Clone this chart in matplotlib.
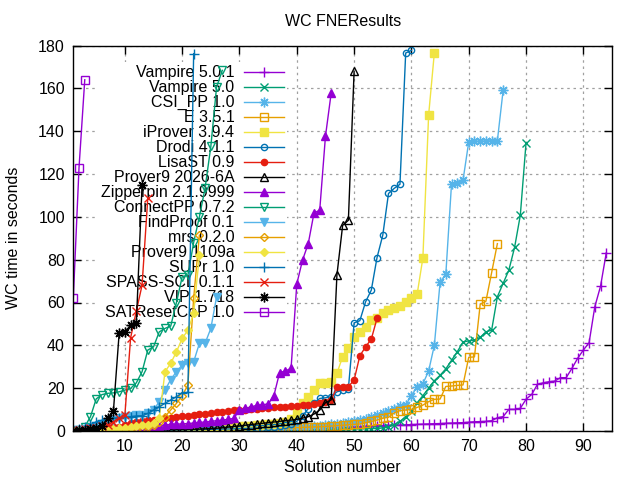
import matplotlib
matplotlib.use('Agg')
import matplotlib.pyplot as plt
from matplotlib.transforms import IdentityTransform

plt.rcParams['font.family'] = ['Liberation Sans', 'DejaVu Sans']

title = "WC FNEResults"
xlabel = "Solution number"
ylabel = "WC time in seconds"

labels = ["Vampire 5.0.1", "Vampire 5.0", "CSI_PP 1.0", "E 3.5.1", "iProver 3.9.4",
          "Drodi 4.1.1", "LisaST 0.9", "Prover9 2026-6A", "Zipperpin 2.1.9999",
          "ConnectPP 0.7.2", "FindProof 0.1", "mrs 0.2.0", "Prover9 1109a",
          "SUPr 1.0", "SPASS-SCL 0.1.1", "VIP 1.718", "SATResetCoP 1.0"]

vampire_501 = [0.05, 0.08, 0.1, 0.12, 0.15, 0.17, 0.2, 0.22, 0.25, 0.27,
               0.3, 0.32, 0.35, 0.37, 0.4, 0.42, 0.45, 0.47, 0.5, 0.52,
               0.55, 0.58, 0.6, 0.63, 0.66, 0.7, 0.73, 0.76, 0.8, 0.84,
               0.88, 0.92, 0.96, 1.0, 1.05, 1.1, 1.15, 1.2, 1.25, 1.3,
               1.35, 1.4, 1.45, 1.5, 1.55, 1.6, 1.7, 1.8, 1.9, 2.0,
               2.1, 2.2, 2.3, 2.4, 2.5, 2.6, 2.7, 2.8, 2.9, 3.0,
               3.1, 3.2, 3.3, 3.4, 3.5, 3.6, 3.7, 3.8, 3.9, 4.1,
               4.3, 4.4, 4.5, 4.8, 6.2, 6.7, 10.1, 10.1, 10.6, 14.8,
               17.1, 21.8, 22.5, 23.0, 23.3, 24.9, 24.9, 29.2, 33.9, 37.8,
               41.2, 58.0, 67.6, 83.2]
vampire_50 = [0.03, 0.05, 0.06, 0.08, 0.1, 0.11, 0.12, 0.14, 0.15, 0.16,
              0.18, 0.19, 0.2, 0.22, 0.23, 0.25, 0.26, 0.28, 0.3, 0.32,
              0.34, 0.36, 0.38, 0.4, 0.42, 0.44, 0.46, 0.48, 0.5, 0.52,
              0.54, 0.56, 0.58, 0.6, 0.62, 0.64, 0.66, 0.68, 0.7, 0.72,
              0.74, 0.76, 0.78, 0.8, 0.82, 0.84, 0.86, 0.88, 0.9, 0.92,
              0.95, 1.0, 1.1, 1.2, 1.4, 1.8, 3.0, 4.5, 6.5, 9.5,
              13.2, 16.5, 20.0, 23.5, 26.0, 29.0, 33.0, 37.0, 41.5, 42.1,
              42.4, 43.7, 46.3, 47.1, 62.7, 68.9, 75.1, 85.7, 100.7, 134.5]
csi_pp = [0.05, 0.07, 0.09, 0.1, 0.12, 0.14, 0.16, 0.18, 0.2, 0.22,
          0.25, 0.28, 0.3, 0.33, 0.36, 0.4, 0.43, 0.46, 0.5, 0.55,
          0.6, 0.65, 0.7, 0.75, 0.8, 0.85, 0.9, 0.95, 1.0, 1.05,
          1.1, 1.15, 1.2, 1.3, 1.4, 1.5, 1.6, 1.7, 1.8, 1.9,
          2.0, 2.1, 2.3, 2.5, 2.8, 3.1, 3.5, 3.9, 4.3, 4.8,
          5.3, 5.8, 6.5, 7.5, 8.5, 9.5, 10.1, 11.7, 12.1, 16.5,
          20.7, 22.0, 28.0, 40.0, 69.4, 73.1, 115.5, 116.0, 117.0, 135.0,
          135.2, 135.3, 135.4, 135.5, 135.6, 159.0]
e_351 = [0.03, 0.05, 0.07, 0.09, 0.1, 0.12, 0.14, 0.16, 0.18, 0.2,
         0.22, 0.24, 0.26, 0.28, 0.3, 0.33, 0.36, 0.39, 0.42, 0.45,
         0.48, 0.5, 0.55, 0.6, 0.65, 0.7, 0.75, 0.8, 0.85, 0.9,
         0.95, 1.0, 1.05, 1.1, 1.15, 1.2, 1.3, 1.4, 1.5, 1.6,
         1.7, 1.8, 1.9, 2.0, 2.1, 2.3, 2.5, 2.7, 2.9, 3.1,
         3.3, 3.9, 4.5, 5.1, 6.0, 6.4, 8.5, 9.5, 9.8, 10.1,
         11.0, 12.1, 13.7, 14.8, 14.9, 20.8, 21.0, 21.3, 21.5, 34.4,
         34.6, 59.1, 60.6, 74.0, 87.5]
iprover = [0.1, 0.15, 0.2, 0.25, 0.3, 0.35, 0.4, 0.45, 0.5, 0.55,
           0.6, 0.65, 0.7, 0.75, 0.8, 0.9, 1.0, 1.1, 1.2, 1.3,
           1.4, 1.5, 1.6, 1.7, 1.8, 1.9, 2.0, 2.1, 2.2, 2.3,
           2.4, 2.5, 2.7, 2.9, 3.1, 3.4, 3.7, 4.2, 5.5, 8.2,
           13.2, 16.0, 19.1, 22.3, 22.5, 22.7, 26.9, 34.7, 38.6, 44.0,
           46.3, 48.6, 51.8, 52.8, 54.9, 56.4, 57.2, 58.3, 60.3, 61.9,
           63.9, 80.8, 147.4, 176.6]
drodi = [0.05, 0.07, 0.09, 0.1, 0.12, 0.14, 0.16, 0.18, 0.2, 0.22,
         0.25, 0.28, 0.3, 0.33, 0.36, 0.4, 0.43, 0.46, 0.5, 0.55,
         0.6, 0.65, 0.7, 0.75, 0.8, 0.85, 0.9, 0.95, 1.0, 1.1,
         1.2, 1.3, 1.4, 1.5, 1.7, 1.9, 2.2, 2.6, 3.2, 4.5,
         7.0, 10.5, 13.0, 15.2, 15.5, 16.0, 18.3, 19.0, 19.8, 50.5,
         51.5, 60.3, 65.8, 81.0, 91.4, 110.9, 113.3, 115.2, 176.5, 177.7]
lisast = [0.3, 0.5, 0.7, 0.9, 1.1, 1.3, 1.5, 1.8, 2.1, 2.6,
          3.6, 4.3, 4.7, 5.0, 5.3, 5.6, 5.9, 6.3, 6.6, 6.9,
          7.2, 7.5, 7.8, 8.1, 8.4, 8.7, 9.0, 9.3, 9.6, 9.8,
          10.0, 10.2, 10.4, 10.6, 10.8, 11.0, 11.2, 11.4, 11.6, 11.8,
          12.0, 12.3, 12.6, 12.9, 13.4, 14.5, 20.4, 20.4, 20.7, 23.8,
          35.1, 39.3, 42.9, 52.6]
prover9_2026 = [0.05, 0.07, 0.1, 0.12, 0.15, 0.18, 0.2, 0.23, 0.26, 0.3,
                0.33, 0.36, 0.4, 0.44, 0.48, 0.52, 0.56, 0.6, 0.65, 0.7,
                0.75, 0.8, 0.9, 1.0, 1.1, 1.3, 1.5, 1.8, 2.1, 2.4,
                2.7, 3.0, 3.3, 3.6, 3.9, 4.2, 4.5, 4.8, 5.1, 5.4,
                6.0, 6.7, 7.9, 9.8, 13.2, 14.5, 72.8, 96.0, 98.4, 168.0]
zipperpin = [0.2, 0.3, 0.4, 0.5, 0.6, 0.7, 0.8, 0.9, 1.0, 1.1,
             1.3, 1.5, 1.7, 1.9, 2.2, 2.5, 2.8, 3.1, 3.2, 3.3,
             3.5, 3.7, 4.0, 4.2, 4.5, 4.8, 5.1, 5.4, 5.9, 9.8,
             10.6, 11.2, 12.0, 12.3, 12.6, 16.5, 27.3, 28.0, 29.3, 68.7,
             79.8, 87.5, 101.8, 103.1, 137.6, 157.8]
connectpp = [0.2, 0.5, 2.0, 6.7, 15.0, 17.0, 17.6, 17.8, 18.3, 19.1,
             19.9, 22.5, 27.7, 37.8, 39.3, 46.3, 47.9, 49.0, 60.0, 72.0,
             72.8, 88.0, 100.0, 113.5, 132.9, 160.6, 168.4]
findproof = [0.3, 0.6, 1.0, 1.5, 2.2, 3.2, 4.3, 5.1, 5.9, 6.7,
             7.2, 7.5, 7.6, 8.5, 9.8, 13.7, 19.1, 24.0, 27.7, 30.8,
             31.6, 32.3, 40.9, 41.0, 47.9, 62.6]
mrs = [0.05, 0.08, 0.1, 0.15, 0.2, 0.25, 0.3, 0.4, 0.5, 0.6,
       0.8, 1.0, 1.3, 1.8, 2.6, 4.0, 6.7, 9.8, 12.9, 16.5,
       21.5, 62.0, 91.4]
prover9_1109a = [0.1, 0.2, 0.3, 0.4, 0.5, 0.6, 0.8, 1.0, 1.2, 1.5,
                 1.8, 2.2, 2.6, 3.0, 3.6, 5.9, 27.7, 31.6, 37.0, 43.2,
                 47.1, 54.9, 82.0]
supr = [0.3, 0.8, 1.8, 3.0, 4.3, 5.0, 5.6, 6.0, 6.2, 6.4,
        6.7, 7.0, 7.1, 8.2, 9.8, 11.3, 12.9, 14.5, 16.0, 17.9,
        18.0, 176.2]
spass_scl = [0.3, 0.5, 0.8, 1.2, 1.6, 2.2, 3.0, 4.3, 5.9, 7.5,
             43.5, 56.0, 68.1, 108.8]
vip = [0.2, 0.4, 0.6, 1.0, 1.5, 2.5, 5.9, 9.3, 45.6, 46.3,
       49.4, 50.2, 115.0]
satresetcop = [62.0, 123.0, 164.0]

series = [vampire_501, vampire_50, csi_pp, e_351, iprover, drodi, lisast,
          prover9_2026, zipperpin, connectpp, findproof, mrs, prover9_1109a,
          supr, spass_scl, vip, satresetcop]

palette = ['#9400d3', '#009e73', '#56b4e9', '#e69f00', '#f0e442', '#0072b2', '#e51e10', '#000000']
marker_cycle = [('+', True), ('x', True), ((8, 2, 0), True), ('s', False), ('s', True),
                ('o', False), ('o', True), ('^', False), ('^', True), ('v', False),
                ('v', True), ('D', False), ('D', True)]
msizes = {'+': 7, 'x': 6, 's': 5.5, 'o': 4.5, '^': 6, 'v': 6, 'D': 4.5}

xticks = [10, 20, 30, 40, 50, 60, 70, 80, 90]
yticks = [0, 20, 40, 60, 80, 100, 120, 140, 160, 180]

DPI = 100
FS = 11.5
fig = plt.figure(figsize=(6.4, 4.8), dpi=DPI)
ax = fig.add_axes([73.3 / 640, 1 - 431 / 480, (612 - 73.3) / 640, (431 - 45.5) / 480])

for i, (lab, ys) in enumerate(zip(labels, series)):
    col = palette[i % 8]
    mk, filled = marker_cycle[i % 13]
    ms = msizes.get(mk, 7) if isinstance(mk, str) else 7
    xs = list(range(1, len(ys) + 1))
    ax.plot(xs, ys, color=col, lw=1.0, marker=mk, ms=ms,
            mfc=col if filled else 'none', mec=col, mew=1.0, label=lab,
            zorder=2 + i * 0.01)

ax.set_xlim(1, 95)
ax.set_ylim(0, 180)
ax.set_xticks(xticks)
ax.set_yticks(yticks)
ax.tick_params(direction='in', length=6, width=1, top=True, right=True,
               labelsize=FS, pad=6, colors='black')
for s in ax.spines.values():
    s.set_linewidth(1.0)
ax.set_axisbelow(True)
ax.grid(True, color='#a0a0a0', linestyle=(0, (2, 3)), linewidth=0.9)

ax.set_title(title, fontsize=FS, pad=14)
ax.set_xlabel(xlabel, fontsize=FS, labelpad=4)
ax.set_ylabel(ylabel, fontsize=FS)
ax.yaxis.set_label_coords(-0.097, 0.5)

leg = ax.legend(loc='upper right', bbox_to_anchor=(287 / 640, 1 - 62 / 480),
                bbox_transform=fig.transFigure, markerfirst=False, fontsize=FS,
                frameon=True, fancybox=False, framealpha=1.0, edgecolor='none',
                facecolor='white', handlelength=2.5, handletextpad=0.6,
                labelspacing=0.0, borderpad=0.2, borderaxespad=0, numpoints=1)
leg.set_zorder(1)

# right-align the key texts next to their samples (gnuplot style)
fig.canvas.draw()
renderer = fig.canvas.get_renderer()
ltexts = leg.get_texts()
right_edge = max(t.get_window_extent(renderer).x1 for t in ltexts)
for t in ltexts:
    bb = t.get_window_extent(renderer)
    ax.text(right_edge, 0.5 * (bb.y0 + bb.y1), t.get_text(), transform=IdentityTransform(),
            ha='right', va='center', fontsize=FS, color='black', zorder=1.5)
    t.set_visible(False)

fig.savefig('out.png', dpi=DPI)
